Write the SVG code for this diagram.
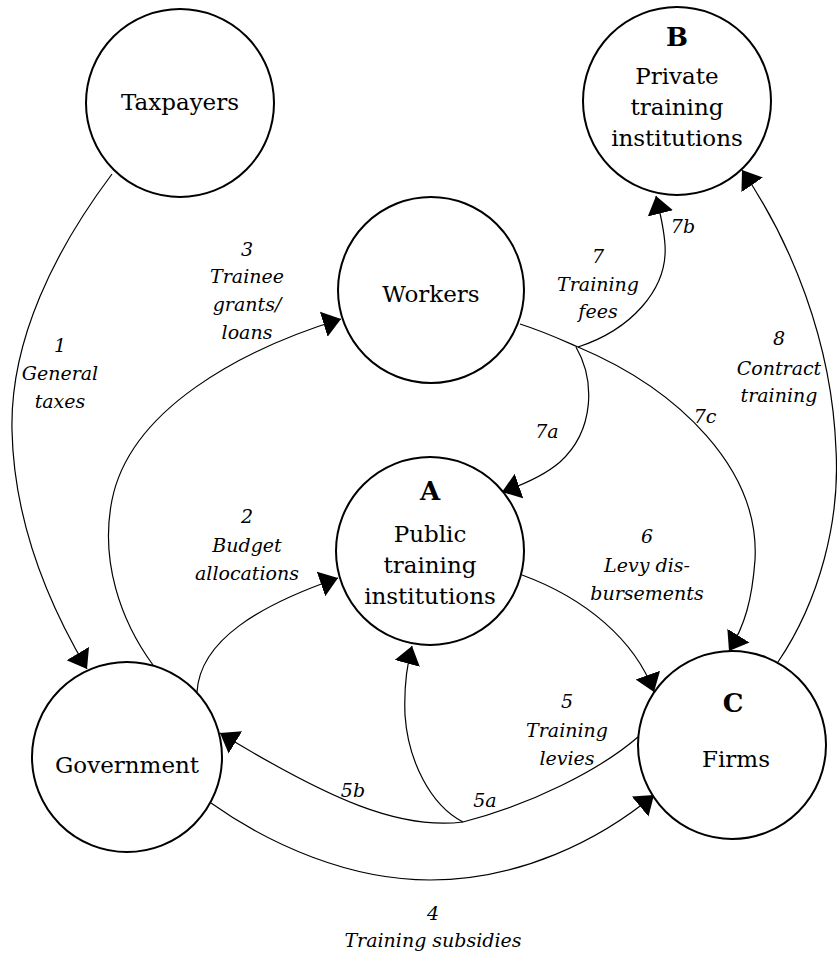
<svg xmlns="http://www.w3.org/2000/svg" width="837" height="958" viewBox="0 0 837 958">
<style>
.node circle{fill:#fff;stroke:#000;stroke-width:2}
.nl{font-family:"DejaVu Serif","Liberation Serif",serif;font-size:23px;text-anchor:middle;fill:#000}
.big{font-family:"DejaVu Serif","Liberation Serif",serif;font-size:26px;font-weight:bold;text-anchor:middle;fill:#000}
.el{font-family:"DejaVu Serif","Liberation Serif",serif;font-size:19px;font-style:italic;text-anchor:middle;fill:#000}
.conn path{fill:none;stroke:#000;stroke-width:1.2}
</style>
<defs>
<marker id="ah" markerUnits="userSpaceOnUse" markerWidth="20" markerHeight="28" viewBox="0 0 20 28" refX="18" refY="14" orient="auto">
<path d="M0,1 L18,14 L0,27 Z" fill="#000"/>
</marker>
</defs>
<rect width="837" height="958" fill="#fff"/>
<g id="connectors" class="conn">
<path id="e1" d="M112,174 C55,250 10,340 12,430 C14,530 55,615 87,669" marker-end="url(#ah)"/>
<path id="e3" d="M153,665 C120,620 100,560 112,500 C130,410 240,350 341,319" marker-end="url(#ah)"/>
<path id="e2" d="M197,692 C200,640 260,605 338,578" marker-end="url(#ah)"/>
<path id="e7" d="M520,324 C545,332 562,340 578,347"/>
<path id="e7a" d="M576,347 C595,380 595,430 560,462 C545,475 525,484 502,492" marker-end="url(#ah)"/>
<path id="e7b" d="M578,347 C630,330 668,290 665,245 C664,228 660,212 656,196" marker-end="url(#ah)"/>
<path id="e7c" d="M578,347 C680,390 760,470 755,560 C752,600 745,625 729,651" marker-end="url(#ah)"/>
<path id="e8" d="M778,662 C820,600 840,520 836,450 C832,340 790,240 742,170" marker-end="url(#ah)"/>
<path id="e6" d="M522,575 C585,598 635,640 654,692" marker-end="url(#ah)"/>
<path id="e5" d="M638,737 C600,770 530,805 463,822"/>
<path id="e5b" d="M463,822 C400,830 330,800 220,733" marker-end="url(#ah)"/>
<path id="e5a" d="M463,822 C430,805 408,760 405,715 C404,690 406,668 412,646" marker-end="url(#ah)"/>
<path id="e4" d="M211,803 C270,845 350,880 430,880 C520,880 600,840 654,795" marker-end="url(#ah)"/>
</g>
<g id="taxpayers" class="node">
<circle cx="180" cy="103" r="94"/>
<text class="nl" x="180" y="110">Taxpayers</text>
</g>
<g id="private" class="node">
<circle cx="677" cy="101" r="94"/>
<text class="big" x="677" y="46">B</text>
<text class="nl" x="677" y="84">Private</text>
<text class="nl" x="677" y="115">training</text>
<text class="nl" x="677" y="146">institutions</text>
</g>
<g id="workers" class="node">
<circle cx="431" cy="290" r="93"/>
<text class="nl" x="431" y="302">Workers</text>
</g>
<g id="public" class="node">
<circle cx="430" cy="551" r="94"/>
<text class="big" x="430" y="500">A</text>
<text class="nl" x="430" y="542">Public</text>
<text class="nl" x="430" y="573">training</text>
<text class="nl" x="430" y="604">institutions</text>
</g>
<g id="government" class="node">
<circle cx="127" cy="757" r="95"/>
<text class="nl" x="127" y="773">Government</text>
</g>
<g id="firms" class="node">
<circle cx="732" cy="745" r="94"/>
<text class="big" x="733" y="712">C</text>
<text class="nl" x="736" y="767">Firms</text>
</g>
<g id="labels">
<text class="el" x="60" y="352">1</text>
<text class="el" x="60" y="380">General</text>
<text class="el" x="60" y="408">taxes</text>
<text class="el" x="247" y="256">3</text>
<text class="el" x="247" y="283">Trainee</text>
<text class="el" x="247" y="311">grants/</text>
<text class="el" x="247" y="339">loans</text>
<text class="el" x="247" y="523">2</text>
<text class="el" x="247" y="552">Budget</text>
<text class="el" x="247" y="580">allocations</text>
<text class="el" x="598" y="263">7</text>
<text class="el" x="598" y="291">Training</text>
<text class="el" x="598" y="318">fees</text>
<text class="el" x="683" y="233">7b</text>
<text class="el" x="547" y="438">7a</text>
<text class="el" x="705" y="423">7c</text>
<text class="el" x="779" y="345">8</text>
<text class="el" x="779" y="375">Contract</text>
<text class="el" x="779" y="402">training</text>
<text class="el" x="647" y="543">6</text>
<text class="el" x="647" y="572">Levy dis-</text>
<text class="el" x="647" y="600">bursements</text>
<text class="el" x="567" y="708">5</text>
<text class="el" x="567" y="737">Training</text>
<text class="el" x="567" y="765">levies</text>
<text class="el" x="485" y="807">5a</text>
<text class="el" x="353" y="797">5b</text>
<text class="el" x="433" y="920">4</text>
<text class="el" x="433" y="947">Training subsidies</text>
</g>
</svg>
